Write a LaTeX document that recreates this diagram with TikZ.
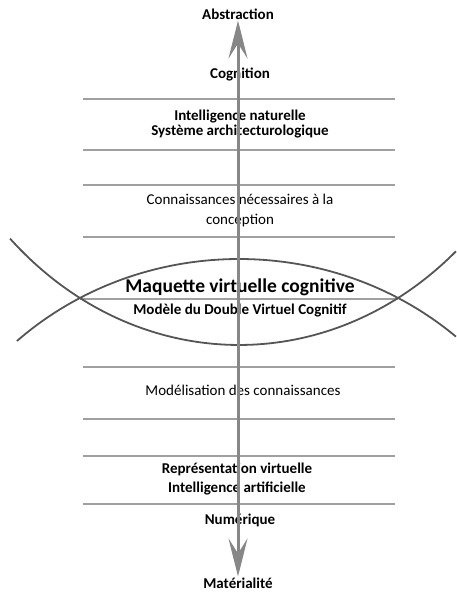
\documentclass[tikz,border=0pt]{standalone}
\usepackage{fontspec}
\setmainfont{Carlito}
\usetikzlibrary{arrows.meta}
\definecolor{layergray}{RGB}{160,160,160}
\definecolor{curvegray}{RGB}{85,85,85}
\definecolor{axisgray}{RGB}{135,135,135}
\begin{document}
\begin{tikzpicture}[x=1pt, y=1pt,
        boldlabel/.style={font=\bfseries\fontsize{15}{15}\selectfont, inner sep=1pt, align=center},
        plainlabel/.style={font=\fontsize{15}{20}\selectfont, inner sep=1pt, align=center},
        layer/.style={layergray, line width=1.6pt},
        lens/.style={curvegray, line width=1.8pt},
        bigtip/.tip={Stealth[length=38pt, width=19pt, inset=15pt]}]

        \useasboundingbox (0,0) rectangle (456,593);

        \node[boldlabel] (abstraction) at (238,579) {Abstraction};
        \node[boldlabel] (cognition) at (240,518) {Cognition};
        \node[boldlabel] (naturelle) at (240,469)
            {Intelligence naturelle\\Système architecturologique};
        \node[plainlabel] (conception) at (240,382)
            {Connaissances nécessaires à la\\conception};
        \node[boldlabel, font=\bfseries\fontsize{19.5}{20}\selectfont] (maquette) at (240,306)
            {Maquette virtuelle cognitive};
        \node[boldlabel] (double) at (240,282) {Modèle du Double Virtuel Cognitif};
        \node[plainlabel] (modelisation) at (243,203) {Modélisation des connaissances};
        \node[boldlabel, font=\bfseries\fontsize{15}{18.5}\selectfont] (artificielle) at (237,114)
            {Représentation virtuelle\\Intelligence artificielle};
        \node[boldlabel] (numerique) at (240,73) {Numérique};
        \node[boldlabel] (materialite) at (238,10) {Matérialité};

        % #######################################

        \draw[layer] (83,494) -- (395,494);
        \draw[layer] (83,443) -- (395,443);
        \draw[layer] (83,408) -- (395,408);
        \draw[layer] (83,356) -- (395,356);
        \draw[layer] (80,294) -- (398,294);
        \draw[layer] (83,226) -- (395,226);
        \draw[layer] (83,174) -- (395,174);
        \draw[layer] (83,137) -- (395,137);
        \draw[layer] (83,89) -- (395,89);

        % #######################################

        \draw[lens] (239,19) ++(132.3:330 and 315) arc[start angle=132.3, end angle=48.9, x radius=330, y radius=315];
        \draw[lens] (239,628) ++(226.05:330 and 380) arc[start angle=226.05, end angle=311.1, x radius=330, y radius=380];
        \draw[lens, line width=1.4pt] (238,334) -- (238,248);

        \draw[axisgray, line width=3pt, bigtip-bigtip] (materialite.north) -- (abstraction.south);

    \end{tikzpicture}
\end{document}
